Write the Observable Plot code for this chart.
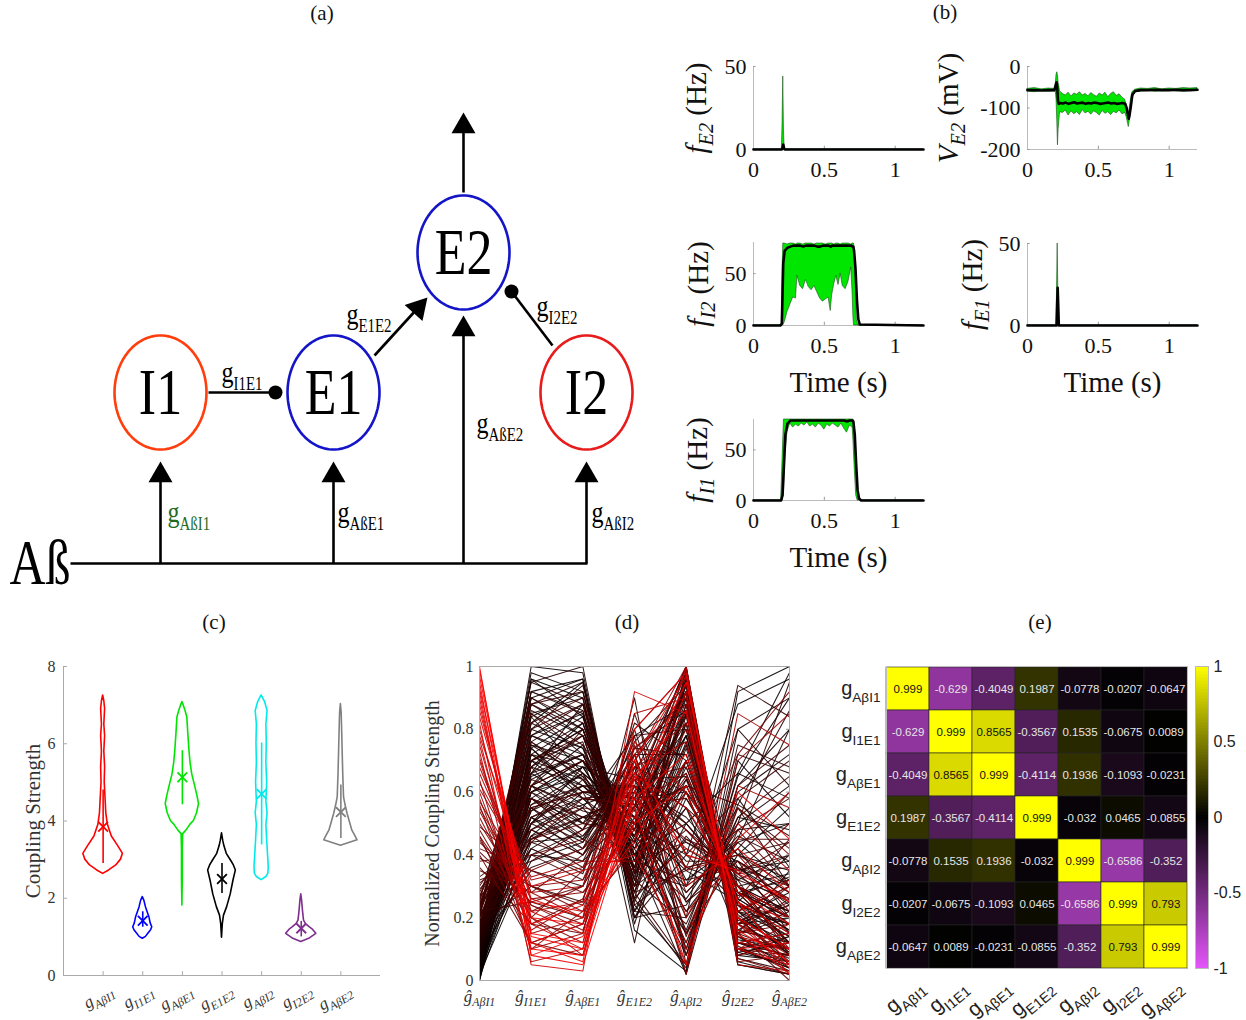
<!DOCTYPE html>
<html><head><meta charset="utf-8">
<script src="https://cdn.jsdelivr.net/npm/d3@7"></script>
<script src="https://cdn.jsdelivr.net/npm/@observablehq/plot@0.6"></script>
<style>
body{margin:0;background:#fff;}
#root{position:relative;width:1246px;height:1020px;overflow:hidden;background:#fff;}
.panel{position:absolute;}
.panel svg{max-width:none!important;overflow:visible;}
.tag{position:absolute;font-family:"Liberation Serif",serif;font-size:21px;line-height:22px;transform:translateX(-50%);color:#111;}
</style></head><body><div id="root"></div>
<script>
// ================= DATA =================
// (a) circuit diagram
const nodes = [
  {id:"I1", x:160, y:392, color:"#ff3d0d"},
  {id:"E1", x:333, y:392, color:"#1515c8"},
  {id:"E2", x:463, y:252, color:"#1515c8"},
  {id:"I2", x:586, y:392, color:"#e81c1c"}
];
const nodeRx = 46, nodeRy = 57;
const wires = [
  {x1:70, y1:563, x2:587, y2:563},
  {x1:160, y1:563, x2:160, y2:478},
  {x1:333, y1:563, x2:333, y2:478},
  {x1:463, y1:563, x2:463, y2:332},
  {x1:586, y1:563, x2:586, y2:478},
  {x1:463, y1:192, x2:463, y2:130},
  {x1:208, y1:392, x2:275, y2:392},
  {x1:374, y1:355, x2:416, y2:309},
  {x1:552, y1:345, x2:511, y2:291}
];
const heads = [
  {x:160, y:461, angle:0}, {x:333, y:461, angle:0}, {x:463, y:315, angle:0},
  {x:586, y:461, angle:0}, {x:463, y:112, angle:0}, {x:427, y:297, angle:42}
];
const knobs = [{x:275, y:392}, {x:511, y:291}];
const gLabels = [
  {t:"g_{I1E1}", x:221, y:372, c:"#000000"},
  {t:"g_{E1E2}", x:346, y:314, c:"#000000"},
  {t:"g_{I2E2}", x:536, y:306, c:"#000000"},
  {t:"g_{AßE2}", x:476, y:423, c:"#000000"},
  {t:"g_{AßI1}", x:167, y:512, c:"#1e6b1e"},
  {t:"g_{AßE1}", x:337, y:512, c:"#000000"},
  {t:"g_{AßI2}", x:591, y:512, c:"#000000"}
];
const inputLabel = [{t:"Aß", x:9, y:563}];

// (b) time series
const fE2_t    = [0, 0.2, 0.205, 0.21, 0.215, 0.22, 1.2];
const fE2_lo   = [0, 0, 0, 0, 0, 0, 0];
const fE2_hi   = [0, 0, 15, 44, 12, 0, 0];
const fE2_mean = [0, 0, 1, 3, 1, 0, 0];

const vE2_t    = [0,0.05,0.1,0.15,0.19,0.2,0.205,0.21,0.215,0.22,0.23,0.25,0.27,0.29,0.31,0.33,0.35,0.37,0.39,0.41,0.43,0.45,0.47,0.49,0.51,0.53,0.55,0.57,0.59,0.61,0.63,0.65,0.67,0.69,0.70,0.71,0.715,0.72,0.73,0.74,0.76,0.8,0.85,0.9,0.95,1.0,1.05,1.1,1.15,1.2];
const vE2_hi   = [-54,-52,-55,-53,-54,-40,-20,-14,-22,-40,-60,-66,-70,-63,-72,-65,-68,-62,-70,-66,-72,-64,-69,-73,-65,-70,-63,-74,-66,-62,-71,-67,-75,-80,-95,-110,-115,-105,-80,-62,-56,-53,-54,-52,-55,-53,-54,-52,-53,-52];
const vE2_lo   = [-60,-62,-59,-61,-60,-62,-80,-130,-190,-150,-110,-112,-106,-118,-108,-115,-110,-117,-105,-113,-109,-116,-108,-112,-118,-107,-114,-110,-117,-109,-113,-106,-115,-112,-122,-138,-146,-135,-110,-78,-63,-60,-59,-61,-60,-59,-60,-61,-59,-58];
const vE2_mean = [-57,-57,-58,-57,-57,-45,-38,-50,-82,-90,-88,-89,-87,-90,-88,-86,-89,-88,-87,-90,-88,-89,-87,-88,-90,-89,-88,-87,-89,-88,-90,-89,-88,-90,-100,-118,-126,-118,-95,-68,-59,-57,-57,-56,-57,-57,-56,-57,-57,-56];

const fI2_t    = [0,0.19,0.2,0.205,0.21,0.22,0.24,0.26,0.28,0.30,0.31,0.33,0.35,0.37,0.39,0.41,0.43,0.45,0.47,0.49,0.51,0.53,0.545,0.555,0.57,0.585,0.6,0.615,0.63,0.65,0.67,0.69,0.70,0.705,0.71,0.72,0.73,0.74,0.75,1.2];
const fI2_hi   = [0,0,0,50,79,79,78,79,79,78,79,79,78,79,79,79,78,79,79,79,78,79,79,79,78,79,79,78,79,79,79,78,79,79,79,50,5,0,0,0];
const fI2_lo   = [0,0,0,0,0,3,13,20,27,26,48,38,35,44,37,34,38,32,26,23,25,27,14,29,40,48,39,50,38,35,42,56,30,8,0,0,0,0,0,0];
const fI2_mean = [0,0,2,30,60,72,75,76,77,77,77,77,76,77,77,77,77,76,76,77,77,77,76,77,77,77,77,77,77,77,77,77,76,76,72,55,25,6,1,0];

const fE1_t    = [0, 0.205, 0.209, 0.213, 0.217, 0.221, 1.2];
const fE1_lo   = [0, 0, 0, 0, 0, 0, 0];
const fE1_hi   = [0, 0, 25, 50, 25, 0, 0];
const fE1_mean = [0, 0, 12, 23, 12, 0, 0];

const fI1_t    = [0,0.195,0.205,0.215,0.225,0.24,0.26,0.28,0.30,0.32,0.34,0.36,0.38,0.40,0.42,0.44,0.46,0.48,0.50,0.52,0.54,0.56,0.58,0.60,0.62,0.64,0.66,0.68,0.70,0.705,0.715,0.725,0.735,0.745,0.76,1.2];
const fI1_hi   = [0,0,40,80,80,80,80,80,80,80,80,80,80,80,80,80,80,80,80,80,80,80,80,80,80,80,80,80,80,80,70,40,12,2,0,0];
const fI1_lo   = [0,0,0,10,45,68,76,72,75,73,76,74,77,73,75,72,76,74,70,75,73,76,74,72,76,71,67,74,72,60,30,5,0,0,0,0];
const fI1_mean = [0,0,5,35,65,76,79,79,79,79,79,79,79,79,79,79,79,79,79,79,79,79,79,79,79,79,78,79,79,78,65,35,10,2,0,0];

// (c) violins: [value, half-width]
const violinLabels = ["~g~_{~AβI1~}","~g~_{~I1E1~}","~g~_{~AβE1~}","~g~_{~E1E2~}","~g~_{~AβI2~}","~g~_{~I2E2~}","~g~_{~AβE2~}"];
const violinColors = ["#ff0000","#0000ff","#00e400","#000000","#00eaea","#7e2f8e","#808080"];
const violinShapes = [
  [[2.63,0],[2.72,0.15],[2.85,0.33],[3.0,0.45],[3.15,0.5],[3.35,0.38],[3.6,0.22],[3.9,0.12],[4.2,0.08],[4.6,0.06],[5.0,0.04],[5.4,0.05],[5.8,0.03],[6.2,0.05],[6.5,0.03],[6.9,0.05],[7.1,0.03],[7.25,0]],
  [[0.95,0],[1.0,0.08],[1.08,0.14],[1.17,0.21],[1.25,0.24],[1.35,0.2],[1.5,0.17],[1.62,0.13],[1.77,0.08],[1.94,0.04],[2.03,0]],
  [[1.81,0],[2.5,0.01],[3.3,0.01],[3.66,0.02],[3.75,0.1],[3.9,0.2],[4.0,0.29],[4.2,0.37],[4.44,0.42],[4.65,0.38],[4.87,0.33],[5.2,0.25],[5.47,0.21],[5.8,0.18],[6.25,0.15],[6.68,0.125],[6.85,0.08],[7.03,0.02],[7.08,0]],
  [[0.98,0],[1.33,0.02],[1.55,0.05],[1.77,0.13],[2.1,0.22],[2.46,0.29],[2.72,0.35],[2.85,0.3],[2.97,0.23],[3.15,0.12],[3.35,0.06],[3.49,0.03],[3.68,0]],
  [[2.47,0],[2.55,0.12],[2.63,0.17],[2.8,0.18],[3.15,0.16],[3.5,0.14],[3.9,0.12],[4.2,0.15],[4.5,0.12],[5.0,0.14],[5.5,0.12],[6.0,0.13],[6.5,0.12],[6.85,0.15],[7.07,0.09],[7.25,0]],
  [[0.87,0],[0.95,0.2],[1.08,0.38],[1.18,0.3],[1.25,0.21],[1.33,0.12],[1.42,0.07],[1.6,0.05],[1.77,0.035],[1.95,0.02],[2.1,0]],
  [[3.36,0],[3.5,0.42],[3.62,0.36],[3.75,0.29],[4.0,0.22],[4.18,0.17],[4.4,0.12],[4.61,0.08],[5.2,0.06],[5.8,0.045],[6.42,0.03],[6.8,0.02],[7.03,0]]
];
const whiskerLo = [2.9, 1.25, 4.42, 2.12, 3.38, 1.0, 3.55];
const whiskerHi = [4.8, 1.65, 5.82, 2.9, 6.02, 1.4, 4.93];
const violinMeans = [3.85, 1.42, 5.13, 2.5, 4.7, 1.22, 4.23];
const violinXTicks = [1, 2, 3, 4, 5, 6, 7];
const violinYTicks = [0, 2, 4, 6, 8];

// (d) parallel coordinates (normalized)
const pcLabels = ["~ĝ~_{~AβI1~}","~ĝ~_{~I1E1~}","~ĝ~_{~AβE1~}","~ĝ~_{~E1E2~}","~ĝ~_{~AβI2~}","~ĝ~_{~I2E2~}","~ĝ~_{~AβE2~}"];
const pcYTicks = [0, 0.2, 0.4, 0.6, 0.8, 1];
const pcLines = [
  [1.00,0.10,0.08,0.60,0.95,0.20,0.10],[0.97,0.15,0.12,0.70,0.40,0.35,0.25],[0.93,0.20,0.18,0.55,0.05,0.60,0.45],
  [0.90,0.12,0.06,0.80,0.98,0.10,0.05],[0.86,0.25,0.22,0.45,0.70,0.25,0.15],[0.82,0.05,0.03,0.92,0.85,0.15,0.02],
  [0.78,0.30,0.35,0.40,0.10,0.45,0.60],[0.75,0.18,0.10,0.65,0.55,0.30,0.20],[0.71,0.22,0.25,0.50,1.00,0.05,0.03],
  [0.68,0.28,0.30,0.72,0.20,0.50,0.35],[0.64,0.10,0.15,0.85,0.90,0.18,0.08],[0.61,0.33,0.38,0.38,0.60,0.22,0.30],
  [0.58,0.15,0.20,0.62,0.02,0.70,0.85],[0.55,0.26,0.28,0.48,0.80,0.12,0.10],[0.52,0.20,0.12,0.75,0.35,0.40,0.22],
  [0.49,0.35,0.42,0.55,0.95,0.08,0.12],[0.46,0.12,0.08,0.68,0.15,0.55,0.40],[0.44,0.30,0.22,0.42,0.65,0.20,0.05],
  [0.41,0.25,0.30,0.58,0.45,0.35,0.50],[0.38,0.40,0.45,0.35,0.88,0.15,0.18],[0.36,0.18,0.15,0.78,0.08,0.48,0.30],
  [0.33,0.45,0.50,0.46,0.75,0.28,0.12],[0.30,0.55,0.60,0.30,0.98,0.10,0.08],[0.28,0.62,0.70,0.52,0.25,0.42,0.60],
  [0.26,0.48,0.40,0.65,0.50,0.30,0.20],[0.24,0.70,0.78,0.28,0.05,0.62,0.75],[0.22,0.58,0.52,0.44,0.85,0.18,0.25],
  [0.21,0.80,0.88,0.25,0.60,0.35,0.40],[0.19,0.42,0.35,0.70,0.92,0.05,0.02],[0.18,0.66,0.72,0.40,0.15,0.50,0.95],
  [0.16,0.88,0.95,0.20,0.40,0.25,0.15],[0.15,0.52,0.58,0.60,1.00,0.12,0.10],[0.14,0.75,0.65,0.35,0.30,0.55,0.30],
  [0.13,0.95,1.00,0.18,0.70,0.20,0.05],[0.12,0.60,0.48,0.55,0.02,0.80,0.62],[0.11,0.72,0.82,0.32,0.55,0.15,0.35],
  [0.10,0.45,0.55,0.78,0.88,0.30,0.18],[0.09,0.85,0.90,0.22,0.20,0.45,0.80],[0.08,0.68,0.62,0.48,0.96,0.08,0.06],
  [0.07,0.98,0.92,0.26,0.45,0.38,0.28],[0.06,0.55,0.45,0.68,0.10,0.65,0.90],[0.05,0.78,0.85,0.38,0.78,0.12,0.15],
  [0.04,0.62,0.75,0.50,0.35,0.25,0.40],[0.03,0.90,0.80,0.30,0.99,0.05,0.02],[0.02,0.50,0.68,0.58,0.60,0.40,0.55],
  [0.01,0.82,0.95,0.16,0.03,0.92,1.00],[0.00,0.70,0.58,0.42,0.82,0.22,0.08],[0.05,1.00,0.98,0.20,0.50,0.30,0.22],
  [0.12,0.35,0.30,0.82,0.70,0.28,0.12],[0.18,0.30,0.25,0.90,0.05,0.75,0.68],[0.27,0.40,0.32,0.60,0.92,0.18,0.30],
  [0.32,0.38,0.48,0.72,0.28,0.45,0.45],[0.08,0.58,0.68,0.64,0.65,0.20,0.10],[0.15,0.92,0.85,0.12,0.85,0.10,0.04],
  [0.22,0.25,0.20,0.85,0.40,0.58,0.70],[0.03,0.75,0.70,0.45,0.12,0.52,0.48],[0.10,0.62,0.55,0.36,0.95,0.15,0.20],
  [0.25,0.85,0.75,0.28,0.62,0.32,0.08],[0.95,0.08,0.05,0.58,0.72,0.25,0.05],[0.88,0.18,0.24,0.66,0.30,0.42,0.28],
  [0.80,0.22,0.15,0.52,0.92,0.12,0.15],[0.73,0.06,0.10,0.76,0.60,0.20,0.02],[0.66,0.28,0.20,0.44,0.05,0.85,0.75],
  [0.60,0.16,0.26,0.68,0.82,0.22,0.32],[0.54,0.24,0.16,0.60,0.48,0.30,0.10],[0.48,0.20,0.35,0.80,0.98,0.06,0.08],
  [0.42,0.35,0.28,0.50,0.22,0.38,0.25],[0.35,0.28,0.40,0.64,0.68,0.26,0.45],[0.40,0.12,0.18,0.72,0.90,0.15,0.00],
  [0.57,0.30,0.32,0.70,1.00,0.10,0.18],
  [0.02,0.40,0.38,0.55,0.90,0.20,0.12],[0.04,0.65,0.72,0.33,0.75,0.28,0.20],[0.06,0.88,0.78,0.45,0.15,0.40,0.35],
  [0.09,0.50,0.62,0.62,0.52,0.33,0.25],[0.11,0.78,0.70,0.30,0.97,0.12,0.06],[0.13,0.58,0.45,0.72,0.25,0.38,0.15],
  [0.14,0.95,0.88,0.40,0.60,0.22,0.30],[0.16,0.45,0.52,0.50,0.85,0.18,0.10],[0.17,0.72,0.60,0.58,0.08,0.55,0.42],
  [0.20,0.62,0.80,0.35,0.70,0.25,0.12],[0.23,0.55,0.42,0.66,0.98,0.15,0.22],[0.26,0.82,0.90,0.28,0.35,0.48,0.58],
  [0.29,0.48,0.55,0.52,0.62,0.30,0.15],[0.01,0.68,0.82,0.38,0.88,0.10,0.04],[0.03,0.52,0.40,0.70,0.40,0.35,0.38],
  [0.05,0.92,0.96,0.24,0.05,0.70,0.52],[0.07,0.60,0.65,0.48,0.78,0.20,0.28],[0.10,0.74,0.58,0.55,0.95,0.08,0.14],
  [0.12,0.40,0.48,0.80,0.30,0.42,0.20],[0.15,0.85,0.72,0.36,0.55,0.27,0.33],[0.18,0.56,0.62,0.46,0.92,0.14,0.07],
  [0.21,0.68,0.78,0.32,0.18,0.52,0.65],[0.24,0.46,0.36,0.74,0.72,0.24,0.18],[0.02,0.80,0.74,0.42,0.64,0.36,0.26],
  [0.06,0.42,0.52,0.60,1.00,0.09,0.05],[0.08,0.96,0.84,0.30,0.42,0.32,0.40],[0.11,0.54,0.66,0.52,0.10,0.58,0.36],
  [0.13,0.70,0.76,0.26,0.82,0.16,0.12],[0.16,0.62,0.50,0.64,0.48,0.30,0.22],[0.19,0.36,0.42,0.76,0.94,0.11,0.03],
  [0.04,0.72,0.62,0.50,0.22,0.44,0.50],[0.09,0.66,0.88,0.34,0.68,0.26,0.16],[0.14,0.50,0.56,0.44,0.86,0.19,0.24],
  [0.20,0.88,0.80,0.38,0.32,0.36,0.30],[0.27,0.58,0.46,0.68,0.76,0.21,0.09],[0.31,0.44,0.58,0.56,0.58,0.34,0.44],
  [0.00,0.60,0.70,0.46,0.94,0.13,0.10],[0.07,0.84,0.66,0.40,0.02,0.62,0.80],[0.12,0.48,0.40,0.58,0.80,0.24,0.08],
  [0.17,0.76,0.86,0.22,0.46,0.28,0.20],
  [0.99,0.14,0.10,0.64,0.86,0.16,0.06],[0.92,0.08,0.14,0.50,0.62,0.28,0.18],[0.84,0.26,0.20,0.70,0.97,0.10,0.12],
  [0.77,0.12,0.18,0.58,0.42,0.34,0.26],[0.70,0.20,0.08,0.66,0.76,0.18,0.04],[0.63,0.32,0.36,0.48,0.12,0.62,0.55],
  [0.56,0.10,0.22,0.74,0.88,0.14,0.10],[0.50,0.24,0.18,0.56,0.66,0.24,0.20],[0.45,0.18,0.26,0.62,0.99,0.07,0.02],
  [0.39,0.30,0.24,0.52,0.36,0.40,0.30],
  [0.01,0.46,0.60,0.52,0.78,0.22,0.18],[0.03,0.66,0.56,0.62,0.36,0.30,0.12],[0.05,0.84,0.92,0.34,0.90,0.16,0.26],
  [0.07,0.38,0.44,0.66,0.55,0.40,0.32],[0.09,0.72,0.68,0.42,0.08,0.66,0.58],[0.11,0.92,0.86,0.28,0.74,0.20,0.10],
  [0.13,0.54,0.62,0.58,0.92,0.10,0.06],[0.15,0.68,0.50,0.48,0.28,0.46,0.38],[0.17,0.80,0.94,0.30,0.64,0.24,0.14],
  [0.19,0.60,0.70,0.54,0.84,0.18,0.24],[0.21,0.44,0.38,0.70,0.14,0.56,0.46],[0.23,0.76,0.66,0.36,0.96,0.12,0.08],
  [0.25,0.52,0.60,0.62,0.44,0.34,0.20],[0.02,0.96,0.90,0.22,0.58,0.30,0.34],[0.04,0.58,0.50,0.74,0.86,0.14,0.04],
  [0.06,0.70,0.80,0.40,0.26,0.50,0.62],[0.08,0.48,0.58,0.46,0.70,0.26,0.16],[0.10,0.86,0.78,0.32,0.92,0.09,0.12],
  [0.12,0.64,0.72,0.56,0.38,0.38,0.28],[0.14,0.42,0.34,0.78,0.80,0.20,0.06],[0.16,0.78,0.88,0.26,0.04,0.72,0.66],
  [0.18,0.62,0.54,0.50,0.66,0.28,0.22],[0.20,0.50,0.64,0.44,0.98,0.10,0.14],[0.22,0.90,0.82,0.34,0.48,0.34,0.36],
  [0.24,0.58,0.48,0.68,0.60,0.22,0.10],[0.00,0.74,0.84,0.36,0.76,0.18,0.20],[0.03,0.44,0.46,0.64,0.32,0.44,0.30],
  [0.06,0.82,0.74,0.28,0.88,0.12,0.08],[0.09,0.56,0.66,0.52,0.16,0.60,0.72],[0.12,0.76,0.64,0.40,0.70,0.24,0.18],
  [0.15,0.66,0.78,0.48,0.94,0.07,0.03],[0.18,0.50,0.42,0.62,0.50,0.32,0.26],[0.21,0.88,0.92,0.24,0.36,0.40,0.44],
  [0.24,0.64,0.58,0.56,0.82,0.16,0.12],[0.02,0.60,0.68,0.44,0.62,0.28,0.32],[0.05,0.74,0.60,0.58,0.98,0.06,0.02],
  [0.08,0.90,0.96,0.20,0.24,0.48,0.50],[0.11,0.52,0.44,0.72,0.72,0.22,0.14],[0.14,0.70,0.80,0.38,0.44,0.36,0.24],
  [0.17,0.46,0.52,0.60,0.86,0.15,0.09],
  [0.03,0.62,0.70,0.50,0.40,0.88,0.96],[0.10,0.70,0.64,0.46,0.30,0.80,0.90],[0.20,0.55,0.60,0.58,0.20,0.94,0.84],
  [0.06,0.78,0.72,0.40,0.50,0.66,0.98],[0.14,0.60,0.52,0.54,0.62,0.56,0.86],[0.46,0.22,0.30,0.60,0.36,0.72,0.92]
];

// (e) correlation matrix
const corrLabels = ["g_{AβI1}","g_{I1E1}","g_{AβE1}","g_{E1E2}","g_{AβI2}","g_{I2E2}","g_{AβE2}"];
const corr = [
  [0.999,-0.629,-0.4049,0.1987,-0.0778,-0.0207,-0.0647],
  [-0.629,0.999,0.8565,-0.3567,0.1535,-0.0675,0.0089],
  [-0.4049,0.8565,0.999,-0.4114,0.1936,-0.1093,-0.0231],
  [0.1987,-0.3567,-0.4114,0.999,-0.032,0.0465,-0.0855],
  [-0.0778,0.1535,0.1936,-0.032,0.999,-0.6586,-0.352],
  [-0.0207,-0.0675,-0.1093,0.0465,-0.6586,0.999,0.793],
  [-0.0647,0.0089,-0.0231,-0.0855,-0.352,0.793,0.999]
];
const colorbarTicks = [-1, -0.5, 0, 0.5, 1];
const panelTags = [{t:"(a)", x:322, y:2}, {t:"(b)", x:945, y:1}, {t:"(c)", x:214, y:611}, {t:"(d)", x:627, y:611}, {t:"(e)", x:1040, y:611}];

// ================= HELPERS =================
const SERIF = "Liberation Serif, Times New Roman, serif";
const SANS = "Liberation Sans, Arial, sans-serif";
const root = document.getElementById("root");
function place(svg, left, top) {
  const d = document.createElement("div");
  d.className = "panel";
  d.style.left = left + "px"; d.style.top = top + "px";
  d.style.width = svg.getAttribute("width") + "px"; d.style.height = svg.getAttribute("height") + "px";
  d.appendChild(svg); root.appendChild(d); return svg;
}
function parseRich(s) {
  const segs = []; let sub = false, it = false, buf = "";
  const push = () => { if (buf) { segs.push({t: buf, sub, it}); buf = ""; } };
  for (let i = 0; i < s.length; i++) {
    const ch = s[i];
    if (ch === "_" && s[i + 1] === "{") { push(); sub = true; i++; continue; }
    if (ch === "}" && sub) { push(); sub = false; continue; }
    if (ch === "~") { push(); it = !it; continue; }
    buf += ch;
  }
  push(); return segs;
}
function enrich(svg, ratio = 0.7, shift = 0.28) {
  svg.querySelectorAll("text").forEach(el => {
    const s = el.textContent;
    if (!/_\{|~/.test(s)) return;
    const fs = parseFloat(getComputedStyle(el).fontSize) || 14;
    while (el.firstChild) el.removeChild(el.firstChild);
    let cur = false;
    for (const seg of parseRich(s)) {
      const ts = document.createElementNS("http://www.w3.org/2000/svg", "tspan");
      ts.textContent = seg.t;
      if (seg.sub !== cur) { ts.setAttribute("dy", ((seg.sub ? 1 : -1) * shift * fs).toFixed(2)); cur = seg.sub; }
      if (seg.sub) ts.setAttribute("font-size", (fs * ratio).toFixed(2));
      if (seg.it) ts.setAttribute("font-style", "italic");
      el.appendChild(ts);
    }
  });
}
const baseStyle = (font, size) => ({fontFamily: font, fontSize: size, color: "#111", background: "transparent", overflow: "visible", maxWidth: "none"});

// ================= (a) DIAGRAM =================
const ellipseRows = nodes.flatMap(n => d3.range(0, 361, 4).map(a => ({
  id: n.id, color: n.color,
  x: n.x + nodeRx * Math.cos(a * Math.PI / 180), y: n.y + nodeRy * Math.sin(a * Math.PI / 180)
})));
const headRows = heads.map(h => { const r = h.angle * Math.PI / 180; return {...h, cx: h.x - Math.sin(r) * 13.9, cy: h.y + Math.cos(r) * 13.9}; });
const diagram = Plot.plot({
  width: 640, height: 590, margin: 0,
  x: {domain: [0, 640], range: [0, 640], axis: null},
  y: {domain: [0, 590], range: [0, 590], axis: null},
  color: {type: "identity"},
  style: baseStyle(SERIF, "20px"),
  marks: [
    Plot.line(ellipseRows, {x: "x", y: "y", z: "id", stroke: "color", strokeWidth: 2.6}),
    Plot.link(wires, {x1: "x1", y1: "y1", x2: "x2", y2: "y2", stroke: "black", strokeWidth: 2.6}),
    Plot.dot(headRows, {x: "cx", y: "cy", symbol: "triangle", r: 8.9, fill: "black", rotate: "angle"}),
    Plot.dot(knobs, {x: "x", y: "y", r: 7, fill: "black"}),
    Plot.text(nodes, {x: "x", y: "y", text: "id", fontSize: 52, fill: "black"}),
    Plot.text(gLabels, {x: "x", y: "y", text: "t", fill: "c", fontSize: 24, textAnchor: "start"}),
    Plot.text(inputLabel, {x: "x", y: "y", text: "t", fontSize: 50, textAnchor: "start", fill: "black"})
  ]
});
place(diagram, 0, 0);
enrich(diagram, 0.62, 0.26);
diagram.querySelectorAll("text").forEach(el => {
  const bb = el.getBBox(); const cy = bb.y + bb.height / 2;
  const ex = el.getAttribute("transform") || "";
  el.setAttribute("transform", `${ex} translate(0,${cy}) scale(1,1.27) translate(0,${-cy})`);
});

// ================= (b) TIME SERIES =================
function ts({left, top, fh, ydom, yticks, t, lo, hi, mean, ylab, labOff, xlab}) {
  const ml = 90, mr = 15, mt = 22, mb = 80, fw = 170;
  const rows = t.map((d, i) => ({t: d, lo: lo[i], hi: hi[i], m: mean[i]}));
  const span = ydom[1] - ydom[0];
  const svg = Plot.plot({
    width: ml + fw + mr, height: mt + fh + mb,
    marginLeft: ml, marginRight: mr, marginTop: mt, marginBottom: mb,
    x: {domain: [0, 1.2]}, y: {domain: ydom},
    style: baseStyle(SERIF, "22px"),
    marks: [
      Plot.ruleX([0], {stroke: "#bbb"}),
      Plot.ruleY([ydom[0]], {stroke: "#bbb"}),
      Plot.ruleX([0.5, 1], {y1: ydom[0], y2: ydom[0] + span * 0.04, stroke: "#999"}),
      Plot.ruleY(yticks, {x1: 0, x2: 0.018, stroke: "#999"}),
      Plot.areaY(rows, {x: "t", y1: "lo", y2: "hi", fill: "#00e600", stroke: "#1d4d1d", strokeWidth: 0.6}),
      Plot.line(rows, {x: "t", y: "m", stroke: "black", strokeWidth: 2.6}),
      Plot.axisX({ticks: [0, 0.5, 1], tickFormat: d => String(d), tickSize: 0, tickPadding: 12, fontSize: 22, label: null}),
      Plot.axisY({ticks: yticks, tickFormat: d => String(d), tickSize: 0, tickPadding: 7, fontSize: 22, label: null}),
      Plot.text([ylab], {text: d => d, frameAnchor: "left", textAnchor: "middle", lineAnchor: "middle", rotate: -90, dx: -labOff, fontSize: 29}),
      xlab ? Plot.text(["Time (s)"], {text: d => d, frameAnchor: "bottom", textAnchor: "middle", lineAnchor: "middle", dy: 57, fontSize: 29}) : null
    ]
  });
  place(svg, left - ml, top - mt);
  enrich(svg, 0.7, 0.25);
}
ts({left: 753, top: 66, fh: 83, ydom: [0, 50], yticks: [0, 50], t: fE2_t, lo: fE2_lo, hi: fE2_hi, mean: fE2_mean, ylab: "~f~_{~E2~} (Hz)", labOff: 57});
ts({left: 1027, top: 66, fh: 83, ydom: [-200, 0], yticks: [-200, -100, 0], t: vE2_t, lo: vE2_lo, hi: vE2_hi, mean: vE2_mean, ylab: "~V~_{~E2~} (mV)", labOff: 79});
ts({left: 753, top: 242, fh: 83, ydom: [0, 80], yticks: [0, 50], t: fI2_t, lo: fI2_lo, hi: fI2_hi, mean: fI2_mean, ylab: "~f~_{~I2~} (Hz)", labOff: 55, xlab: true});
ts({left: 1027, top: 243, fh: 82, ydom: [0, 50], yticks: [0, 50], t: fE1_t, lo: fE1_lo, hi: fE1_hi, mean: fE1_mean, ylab: "~f~_{~E1~} (Hz)", labOff: 55, xlab: true});
ts({left: 753, top: 419, fh: 81, ydom: [0, 80], yticks: [0, 50], t: fI1_t, lo: fI1_lo, hi: fI1_hi, mean: fI1_mean, ylab: "~f~_{~I1~} (Hz)", labOff: 56, xlab: true});

// ================= (c) VIOLINS =================
const violinRows = violinShapes.flatMap((shape, g) => shape.map(([v, hw]) => ({g, v, x1: g + 1 - hw, x2: g + 1 + hw, c: violinColors[g]})));
const violinStats = violinLabels.map((lab, g) => ({g, x: g + 1, lo: whiskerLo[g], hi: whiskerHi[g], m: violinMeans[g], c: violinColors[g]}));
const violin = Plot.plot({
  width: 400, height: 380, marginLeft: 63, marginRight: 20, marginTop: 26, marginBottom: 45,
  x: {domain: [0, 8]}, y: {domain: [0, 8]}, color: {type: "identity"},
  style: baseStyle(SERIF, "16px"),
  marks: [
    Plot.ruleX([0], {stroke: "#aaa"}),
    Plot.ruleY([0], {stroke: "#aaa"}),
    Plot.ruleX(violinXTicks, {y1: 0, y2: 0.1, stroke: "#aaa"}),
    Plot.ruleY(violinYTicks, {x1: 0, x2: 0.1, stroke: "#aaa"}),
    Plot.areaX(violinRows, {y: "v", x1: "x1", x2: "x2", z: "g", fill: "none", stroke: "c", strokeWidth: 1.6}),
    Plot.ruleX(violinStats, {x: "x", y1: "lo", y2: "hi", stroke: "c", strokeWidth: 1.6}),
    Plot.dot(violinStats, {x: "x", y: "m", symbol: "times", r: 4.5, stroke: "c", strokeWidth: 1.8}),
    Plot.axisX({ticks: violinXTicks, tickFormat: d => violinLabels[d - 1], tickRotate: -30, tickSize: 0, tickPadding: 10, dx: 9, dy: 3, fontSize: 17, label: null, fill: "#333"}),
    Plot.axisY({ticks: violinYTicks, tickFormat: d => String(d), tickSize: 0, tickPadding: 8, fontSize: 16, label: null, fill: "#333"}),
    Plot.text(["Coupling Strength"], {text: d => d, frameAnchor: "left", textAnchor: "middle", lineAnchor: "middle", rotate: -90, dx: -30, fontSize: 21, fill: "#333"})
  ]
});
place(violin, 0, 640);
enrich(violin, 0.7, 0.28);

// ================= (d) PARALLEL COORDINATES =================
const pcRows = pcLines.slice().sort((a, b) => a[0] - b[0])
  .flatMap((row, i) => row.map((v, k) => ({id: i, k: k + 1, v, c: row[0]})));
const pc = Plot.plot({
  width: 405, height: 380, marginLeft: 59, marginRight: 36, marginTop: 26, marginBottom: 40,
  x: {domain: [1, 7]}, y: {domain: [0, 1]},
  color: {type: "linear", domain: [0, 1], range: ["#000000", "#ff0000"]},
  style: baseStyle(SERIF, "16px"),
  marks: [
    Plot.line(pcRows, {x: "k", y: "v", z: "id", stroke: "c", strokeWidth: 1.05, strokeOpacity: 0.9}),
    Plot.frame({stroke: "#aaa"}),
    Plot.ruleY(pcYTicks, {x1: 6.94, x2: 7, stroke: "#999"}),
    Plot.axisX({ticks: [1, 2, 3, 4, 5, 6, 7], tickFormat: d => pcLabels[d - 1], tickSize: 0, tickPadding: 9, fontSize: 17, label: null, fill: "#333"}),
    Plot.axisY({ticks: pcYTicks, tickFormat: d => String(d), tickSize: 0, tickPadding: 6, fontSize: 16, label: null, fill: "#333"}),
    Plot.text(["Normalized Coupling Strength"], {text: d => d, frameAnchor: "left", textAnchor: "middle", lineAnchor: "middle", rotate: -90, dx: -47, fontSize: 20, fill: "#333"})
  ]
});
place(pc, 420, 640);
enrich(pc, 0.7, 0.28);

// ================= (e) HEATMAP =================
const MAG = "rgb(228,85,250)";
const corrColor = {type: "linear", domain: [-1, 0, 1], range: [MAG, "#000000", "#ffff00"], interpolate: "rgb"};
const cellRows = corr.flatMap((row, i) => row.map((v, j) => ({r: corrLabels[i], c: corrLabels[j], v})));
const heat = Plot.plot({
  width: 359, height: 380, marginLeft: 56, marginRight: 2, marginTop: 26, marginBottom: 52,
  x: {domain: corrLabels, padding: 0}, y: {domain: corrLabels, padding: 0},
  color: corrColor,
  style: baseStyle(SANS, "14px"),
  marks: [
    Plot.cell(cellRows, {x: "c", y: "r", fill: "v", stroke: "#262626", strokeWidth: 0.6}),
    Plot.text(cellRows.filter(d => d.v > 0.7), {x: "c", y: "r", text: d => String(d.v), fill: "#111", fontSize: 11.5}),
    Plot.text(cellRows.filter(d => d.v <= 0.7), {x: "c", y: "r", text: d => String(d.v), fill: "#e6e6e6", fontSize: 11.5}),
    Plot.frame({stroke: "#bbb"}),
    Plot.axisX({tickRotate: -40, tickSize: 0, tickPadding: 10, dx: 12, dy: 4, fontSize: 21, label: null, fill: "#222"}),
    Plot.axisY({tickSize: 0, tickPadding: 6, fontSize: 20, label: null, fill: "#222"})
  ]
});
place(heat, 830, 640);
enrich(heat, 0.68, 0.33);

const cbSteps = d3.range(-1, 1, 0.01);
const cbar = Plot.plot({
  width: 60, height: 380, marginLeft: 5, marginRight: 42, marginTop: 26, marginBottom: 52,
  x: {domain: [0, 1], axis: null}, y: {domain: [-1, 1]},
  color: corrColor,
  style: baseStyle(SANS, "16px"),
  marks: [
    Plot.rect(cbSteps, {x1: 0, x2: 1, y1: d => d, y2: d => d + 0.0105, fill: d => d + 0.005, shapeRendering: "crispEdges"}),
    Plot.frame({stroke: "#bbb"}),
    Plot.axisY({anchor: "right", ticks: colorbarTicks, tickFormat: d => String(d), tickSize: 0, tickPadding: 5, fontSize: 16, label: null, fill: "#222"})
  ]
});
place(cbar, 1190, 640);

// ================= TAGS =================
for (const p of panelTags) {
  const d = document.createElement("div");
  d.className = "tag"; d.textContent = p.t;
  d.style.left = p.x + "px"; d.style.top = p.y + "px";
  root.appendChild(d);
}
</script></body></html>
